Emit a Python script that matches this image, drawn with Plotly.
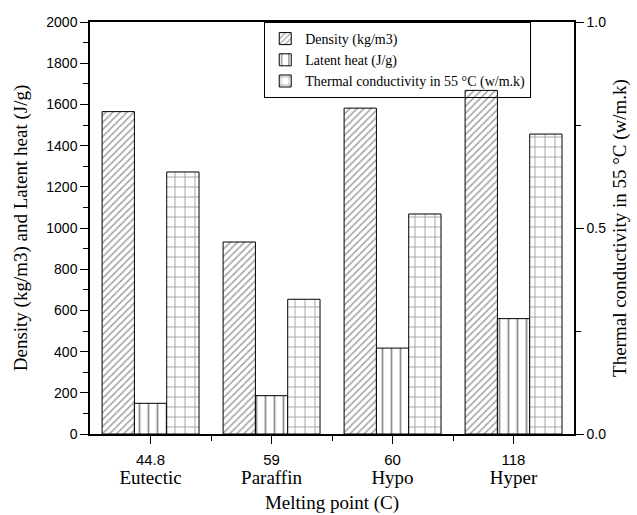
import plotly.graph_objects as go

categories = ["Eutectic", "Paraffin", "Hypo", "Hyper"]
melting_points = ["44.8", "59", "60", "118"]
density = [1565, 932, 1582, 1668]
latent_heat = [149, 186, 417, 560]
thermal_cond = [0.636, 0.327, 0.534, 0.728]

xpos = list(range(len(categories)))
serif = "Liberation Serif, Times New Roman, serif"
sans = "Liberation Sans, Arial, sans-serif"

ticktext = [f"{m}<br><span style='font-family:Liberation Serif;font-size:19px'>{c}</span>"
            for m, c in zip(melting_points, categories)]

bw = 0.267
fig = go.Figure()
fig.add_trace(go.Bar(
    x=xpos, y=density, name="Density (kg/m3)", width=bw, offset=-0.4,
    marker=dict(color="white", line=dict(color="black", width=1),
                pattern=dict(shape="/", fgcolor="#444", bgcolor="white", size=5, solidity=0.3)),
))
fig.add_trace(go.Bar(
    x=xpos, y=latent_heat, name="Latent heat (J/g)", width=bw, offset=-0.4 + bw,
    marker=dict(color="white", line=dict(color="black", width=1),
                pattern=dict(shape="|", fgcolor="#222", bgcolor="white", size=9, solidity=0.2)),
))
fig.add_trace(go.Bar(
    x=xpos, y=thermal_cond, name="Thermal conductivity in 55 \u00b0C (w/m.k)", width=bw,
    offset=-0.4 + 2 * bw, yaxis="y2",
    marker=dict(color="white", line=dict(color="black", width=1),
                pattern=dict(shape="+", fgcolor="#222", bgcolor="white", size=10, solidity=0.15)),
))

fig.update_layout(
    width=637, height=515,
    margin=dict(l=90, r=63, t=22, b=81),
    plot_bgcolor="white", paper_bgcolor="white",
    showlegend=True,
    legend=dict(x=0.36, y=1, xanchor="left", yanchor="top",
                bordercolor="black", borderwidth=1, bgcolor="rgba(255,255,255,0)",
                font=dict(family=serif, size=14, color="black"),
                tracegroupgap=0, itemwidth=30, entrywidth=265),
    xaxis=dict(
        range=[-0.5, 3.5], tickvals=xpos, ticktext=ticktext, automargin=False,
        showline=True, linecolor="black", linewidth=1.5, mirror=True,
        ticks="outside", ticklen=8, tickcolor="black", ticklabelstandoff=3,
        minor=dict(tickvals=[0.5, 1.5, 2.5], ticks="outside", ticklen=5, tickcolor="black"),
        tickfont=dict(family=sans, size=15, color="black"),
        title=dict(text="Melting point (C)", font=dict(family=serif, size=19, color="black"), standoff=8),
        showgrid=False, zeroline=False,
    ),
    yaxis=dict(
        range=[0, 2000], dtick=200, showline=True, linecolor="black", linewidth=1.5,
        automargin=False,
        ticks="outside", ticklen=8, tickcolor="black",
        minor=dict(dtick=100, ticks="outside", ticklen=5, tickcolor="black"),
        tickfont=dict(family=sans, size=14, color="black"),
        title=dict(text="Density (kg/m3) and Latent heat (J/g)", font=dict(family=serif, size=19, color="black"), standoff=14),
        showgrid=False, zeroline=False,
    ),
    yaxis2=dict(
        range=[0, 1], overlaying="y", side="right", tickvals=[0, 0.5, 1.0],
        ticktext=["0.0", "0.5", "1.0"], automargin=False,
        showline=True, linecolor="black", linewidth=1.5,
        ticks="outside", ticklen=8, tickcolor="black",
        minor=dict(tickvals=[0.25, 0.75], ticks="outside", ticklen=5, tickcolor="black"),
        tickfont=dict(family=sans, size=14, color="black"),
        title=dict(text="Thermal conductivity in 55 \u00b0C (w/m.k)", font=dict(family=serif, size=19, color="black"), standoff=7),
        showgrid=False, zeroline=False,
    ),
)

fig.write_html("out.html")
